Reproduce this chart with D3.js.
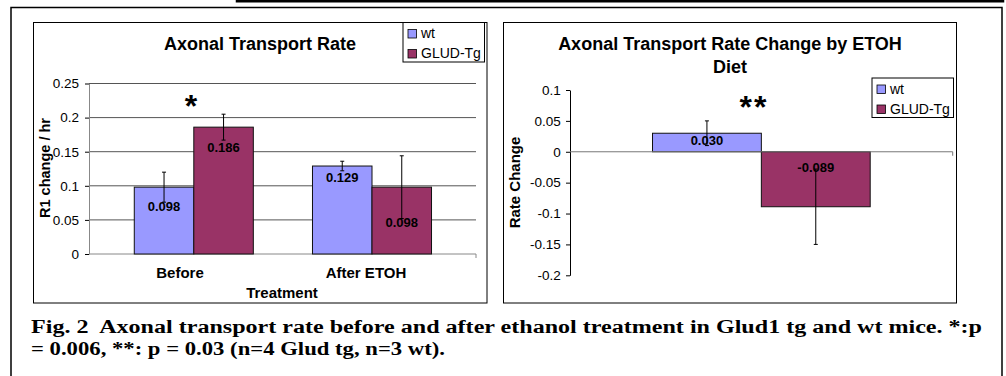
<!DOCTYPE html>
<html><head><meta charset="utf-8">
<script src="https://cdn.jsdelivr.net/npm/d3@7"></script>
<style>html,body{margin:0;padding:0;background:#fff;} svg{display:block;}</style>
</head><body>
<svg id="c" width="1006" height="376"></svg>
<script>
// ---------- data ----------
const groups = ["Before", "After ETOH"];
const seriesNames = ["wt", "GLUD-Tg"];
const wtRate = [0.098, 0.129];
const gludRate = [0.186, 0.098];
const wtRateErr = [0.022, 0.007];
const gludRateErr = [0.019, 0.046];
const rateTicks = [0, 0.05, 0.1, 0.15, 0.2, 0.25];
const changeGroup = ["ETOH Diet"];
const wtChange = [0.030];
const gludChange = [-0.089];
const wtChangeErr = [0.020];
const gludChangeErr = [0.061];
const changeTicks = [0.1, 0.05, 0, -0.05, -0.1, -0.15, -0.2];
const seriesColors = ["#9999FF", "#993366"];
const leftTitle = "Axonal Transport Rate";
const rightTitle = ["Axonal Transport Rate Change by ETOH", "Diet"];
const leftYTitle = "R1 change / hr";
const leftXTitle = "Treatment";
const rightYTitle = "Rate Change";
const leftStar = "*";
const rightStar = "**";
const captionLines = [
  "Fig. 2  Axonal transport rate before and after ethanol treatment in Glud1 tg and wt mice. *:p",
  "= 0.006, **: p = 0.03 (n=4 Glud tg, n=3 wt)."
];

// ---------- layout ----------
const SANS = "'Liberation Sans', Arial, sans-serif";
const SERIF = "'Liberation Serif', 'Times New Roman', serif";
const svg = d3.select("#c");
const color = d3.scaleOrdinal().domain(seriesNames).range(seriesColors);
const loc = d3.formatLocale({decimal: ".", thousands: ",", grouping: [3], currency: ["$", ""], minus: "-"});
const fmt3 = loc.format(".3f");
const fmtTick = loc.format("");

// frames
svg.append("path").attr("d", "M237,-3V1.2H1003V-3")
  .attr("fill", "none").attr("stroke", "#000").attr("stroke-width", 2.5);
svg.append("rect").attr("x", 11).attr("y", 7.5).attr("width", 991).attr("height", 400)
  .attr("fill", "none").attr("stroke", "#000").attr("stroke-width", 1.5);
svg.append("rect").attr("x", 33.5).attr("y", 22.5).attr("width", 453.5).attr("height", 280.5)
  .attr("fill", "#fff").attr("stroke", "#000").attr("stroke-width", 1);
svg.append("rect").attr("x", 503.5).attr("y", 22.5).attr("width", 453).attr("height", 280.5)
  .attr("fill", "#fff").attr("stroke", "#000").attr("stroke-width", 1);

function errorBar(g, cx, yTop, yBot) {
  g.append("line").attr("x1", cx).attr("x2", cx).attr("y1", yTop).attr("y2", yBot)
    .attr("stroke", "#000").attr("stroke-width", 1);
  [yTop, yBot].forEach(yy => g.append("line").attr("x1", cx - 2).attr("x2", cx + 2)
    .attr("y1", yy).attr("y2", yy).attr("stroke", "#000").attr("stroke-width", 1));
}

function legend(g, x, y) {
  g.append("rect").attr("x", x).attr("y", y).attr("width", 81.5).attr("height", 39.5)
    .attr("fill", "#fff").attr("stroke", "#000").attr("stroke-width", 1);
  seriesNames.forEach((s, i) => {
    g.append("rect").attr("x", x + 5).attr("y", y + 7 + i * 20).attr("width", 8.5).attr("height", 8.5)
      .attr("fill", color(s)).attr("stroke", "#000").attr("stroke-width", 0.8);
    g.append("text").attr("x", x + 18).attr("y", y + 15.5 + i * 20).text(s)
      .attr("font-family", SANS).attr("font-size", 14).attr("fill", "#000");
  });
}

// ---------- left chart ----------
{
  const g = svg.append("g");
  const yL = d3.scaleLinear().domain([0, 0.25]).range([254, 83.5]);
  const x0 = d3.scaleBand().domain(groups).range([104.7, 461.1]).paddingInner(0.332).paddingOuter(0.166);
  const x1 = d3.scaleBand().domain(seriesNames).range([0, x0.bandwidth()]);
  const xLab = d3.scalePoint().domain(groups).range([87, 459]).padding(0.5);
  const plotL = 89, plotR = 476;

  g.append("text").attr("x", 260).attr("y", 50).attr("text-anchor", "middle")
    .attr("font-family", SANS).attr("font-weight", "bold").attr("font-size", 18).text(leftTitle);

  g.selectAll(".grid").data(rateTicks.filter(d => d > 0)).join("line")
    .attr("x1", plotL).attr("x2", plotR).attr("y1", d => yL(d)).attr("y2", d => yL(d))
    .attr("stroke", "#555").attr("stroke-width", 1);

  const ax = g.append("g").attr("transform", `translate(${plotL},0)`)
    .call(d3.axisLeft(yL).tickValues(rateTicks).tickSize(4).tickSizeOuter(0).tickPadding(6).tickFormat(fmtTick));
  ax.select(".domain").attr("stroke", "#888");
  ax.selectAll("text").attr("font-family", SANS).attr("font-size", 13.5).attr("fill", "#000");
  ax.selectAll(".tick line").attr("stroke", "#000");

  g.append("line").attr("x1", plotL).attr("x2", plotR).attr("y1", yL(0)).attr("y2", yL(0))
    .attr("stroke", "#888").attr("stroke-width", 1);
  g.append("line").attr("x1", plotR).attr("x2", plotR).attr("y1", yL(0)).attr("y2", yL(0) + 4)
    .attr("stroke", "#888").attr("stroke-width", 1);

  const vals = [wtRate, gludRate], errs = [wtRateErr, gludRateErr];
  const labelDy = [[23.5, 15.5], [25, 39.5]];
  seriesNames.forEach((s, j) => {
    groups.forEach((grp, i) => {
      const v = vals[j][i];
      const bx = x0(grp) + x1(s), bw = x1.bandwidth();
      g.append("rect").attr("x", bx).attr("y", yL(v)).attr("width", bw).attr("height", yL(0) - yL(v))
        .attr("fill", color(s)).attr("stroke", "#111").attr("stroke-width", 1);
    });
  });
  seriesNames.forEach((s, j) => {
    groups.forEach((grp, i) => {
      const v = vals[j][i], e = errs[j][i];
      const cx = x0(grp) + x1(s) + x1.bandwidth() / 2;
      g.append("text").attr("x", cx).attr("y", yL(v) + labelDy[j][i]).attr("text-anchor", "middle")
        .attr("font-family", SANS).attr("font-weight", "bold").attr("font-size", 13).text(fmt3(v));
      errorBar(g, cx, yL(v + e), yL(v - e));
    });
  });

  g.selectAll(".cat").data(groups).join("text")
    .attr("x", d => xLab(d)).attr("y", 278).attr("text-anchor", "middle")
    .attr("font-family", SANS).attr("font-weight", "bold").attr("font-size", 15).text(d => d);
  g.append("text").attr("x", 282).attr("y", 298).attr("text-anchor", "middle")
    .attr("font-family", SANS).attr("font-weight", "bold").attr("font-size", 15).text(leftXTitle);
  g.append("text").attr("transform", "translate(50,168) rotate(-90)").attr("text-anchor", "middle")
    .attr("font-family", SANS).attr("font-weight", "bold").attr("font-size", 14.5).text(leftYTitle);

  g.append("text").attr("x", 191).attr("y", 117).attr("text-anchor", "middle")
    .attr("font-family", SANS).attr("font-weight", "bold").attr("font-size", 32).text(leftStar);

  legend(g, 403, 22.5);
}

// ---------- right chart ----------
{
  const g = svg.append("g");
  const yR = d3.scaleLinear().domain([-0.2, 0.1]).range([275.3, 90]);
  const x0 = d3.scaleBand().domain(changeGroup).range([570, 952.7]).paddingOuter(0.379);
  const x1 = d3.scaleBand().domain(seriesNames).range([0, x0.bandwidth()]);
  const plotL = 570, plotR = 952.7;

  g.selectAll(".title").data(rightTitle).join("text")
    .attr("x", 730).attr("y", (d, i) => 50 + i * 23).attr("text-anchor", "middle")
    .attr("font-family", SANS).attr("font-weight", "bold").attr("font-size", 18).text(d => d);

  const ax = g.append("g").attr("transform", `translate(${plotL},0)`)
    .call(d3.axisLeft(yR).tickValues(changeTicks).tickSize(4).tickSizeOuter(0).tickPadding(5.3).tickFormat(fmtTick));
  ax.select(".domain").attr("stroke", "#000");
  ax.selectAll("text").attr("font-family", SANS).attr("font-size", 13.5).attr("fill", "#000");
  ax.selectAll(".tick line").attr("stroke", "#000");

  const vals = [wtChange, gludChange], errs = [wtChangeErr, gludChangeErr];
  seriesNames.forEach((s, j) => {
    changeGroup.forEach((grp, i) => {
      const v = vals[j][i];
      const bx = x0(grp) + x1(s), bw = x1.bandwidth();
      g.append("rect").attr("x", bx).attr("y", yR(Math.max(0, v))).attr("width", bw)
        .attr("height", Math.abs(yR(v) - yR(0)))
        .attr("fill", color(s)).attr("stroke", "#111").attr("stroke-width", 1);
    });
  });
  g.append("line").attr("x1", plotL).attr("x2", plotR).attr("y1", yR(0)).attr("y2", yR(0))
    .attr("stroke", "#777").attr("stroke-width", 1);
  g.append("line").attr("x1", plotR).attr("x2", plotR).attr("y1", yR(0)).attr("y2", yR(0) + 4)
    .attr("stroke", "#777").attr("stroke-width", 1);

  const labelDy = [11.7, 20];
  seriesNames.forEach((s, j) => {
    changeGroup.forEach((grp, i) => {
      const v = vals[j][i], e = errs[j][i];
      const cx = x0(grp) + x1(s) + x1.bandwidth() / 2;
      g.append("text").attr("x", cx).attr("y", yR(Math.max(0, v)) + labelDy[j]).attr("text-anchor", "middle")
        .attr("font-family", SANS).attr("font-weight", "bold").attr("font-size", 13).text(fmt3(v));
      errorBar(g, cx, yR(v + e), yR(v - e));
    });
  });

  g.append("text").attr("transform", "translate(520,182.5) rotate(-90)").attr("text-anchor", "middle")
    .attr("font-family", SANS).attr("font-weight", "bold").attr("font-size", 15).text(rightYTitle);

  g.append("text").attr("x", 754).attr("y", 118).attr("text-anchor", "middle").attr("letter-spacing", 2)
    .attr("font-family", SANS).attr("font-weight", "bold").attr("font-size", 32).text(rightStar);

  legend(g, 872, 78);
}

// ---------- caption ----------
const capWidths = [951, 414];
svg.selectAll(".cap").data(captionLines).join("text")
  .attr("x", 31).attr("y", (d, i) => 332.5 + i * 22.5)
  .style("white-space", "pre")
  .attr("textLength", (d, i) => capWidths[i]).attr("lengthAdjust", "spacingAndGlyphs")
  .attr("font-family", SERIF).attr("font-weight", "bold").attr("font-size", 18.5).text(d => d);
</script>
</body></html>
